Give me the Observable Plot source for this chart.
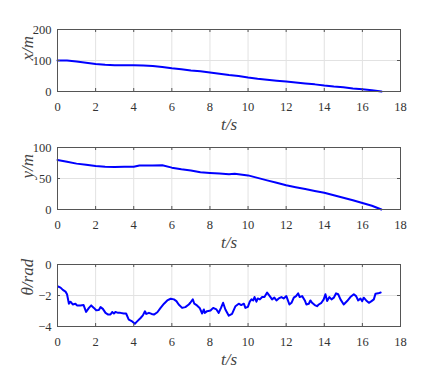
<!DOCTYPE html>
<html><head><meta charset="utf-8">
<script src="https://cdn.jsdelivr.net/npm/d3@7"></script>
<script src="https://cdn.jsdelivr.net/npm/@observablehq/plot@0.6"></script>
<style>
body{margin:0;background:#fff;}
#chart svg{display:block;}
</style></head><body><div id="chart"></div>
<script>
// ---- data ----
const timeTicks = [0, 2, 4, 6, 8, 10, 12, 14, 16, 18];

const xTime = [0,0.5,1,1.5,2,2.5,3,3.5,4,4.5,5,5.5,6,6.5,7,7.5,8,8.5,9,9.5,10,10.5,11,11.5,12,12.5,13,13.5,14,14.5,15,15.5,16,16.5,17];
const xPos  = [100,100,97,93,89,86,85,85,85,84,82,79,75,72,68,65,61,57,53,50,45,41,38,35,32,29,26,23,19,16,14,10,7,4,0];
const xTicks = [0, 100, 200];

const yTime = [0,0.5,1,1.5,2,2.5,3,3.5,4,4.3,5,5.5,6,6.5,7,7.5,8,8.5,9,9.3,10,10.5,11,11.5,12,12.5,13,13.5,14,14.5,15,15.5,16,16.5,17];
const yPos  = [80,77,74,72,70,69,68.5,69,69,71,71,71.5,67.5,65,63,60,59,58,57,57.5,55,51,47,43,39,36,33,30,27,23,19,15,10.5,6,0];
const yTicks = [0, 50, 100];

const thTime = [0.03,0.16,0.28,0.42,0.5,0.6,0.68,0.8,0.94,1.02,1.2,1.37,1.5,1.65,1.77,1.91,2.03,2.17,2.26,2.38,2.52,2.66,2.78,2.87,2.96,3.04,3.18,3.3,3.48,3.6,3.74,3.92,4.06,4.18,4.36,4.48,4.59,4.66,4.8,4.94,5.06,5.24,5.41,5.59,5.76,5.94,6.11,6.24,6.36,6.54,6.71,6.89,6.97,7.1,7.18,7.32,7.46,7.59,7.68,7.73,7.85,8.03,8.17,8.34,8.46,8.58,8.69,8.81,8.99,9.16,9.34,9.51,9.64,9.78,9.86,9.99,10.09,10.18,10.27,10.34,10.44,10.51,10.62,10.74,10.86,11.0,11.14,11.26,11.38,11.49,11.61,11.75,11.87,12.01,12.17,12.28,12.4,12.52,12.63,12.71,12.84,12.98,13.06,13.19,13.27,13.36,13.5,13.62,13.71,13.85,13.97,14.06,14.15,14.27,14.38,14.5,14.62,14.73,14.85,15.02,15.2,15.37,15.55,15.67,15.78,15.9,15.99,16.07,16.2,16.34,16.48,16.6,16.69,16.83,16.96];
const thVal  = [-1.42,-1.49,-1.64,-1.75,-1.92,-2.53,-2.4,-2.58,-2.53,-2.64,-2.64,-2.62,-3.06,-2.8,-2.64,-2.8,-2.95,-2.93,-2.75,-2.86,-3.12,-3.23,-3.23,-3.06,-3.16,-3.06,-3.12,-3.12,-3.16,-3.16,-3.56,-3.67,-3.82,-3.67,-3.45,-3.28,-3.02,-3.19,-3.12,-3.19,-3.23,-3.08,-2.8,-2.53,-2.32,-2.21,-2.25,-2.36,-2.58,-2.8,-2.75,-2.58,-2.47,-2.25,-2.53,-2.64,-2.8,-3.16,-2.9,-3.12,-3.01,-2.97,-2.8,-2.9,-3.12,-2.8,-2.47,-2.9,-3.3,-3.19,-2.69,-2.53,-2.62,-2.53,-2.8,-2.73,-2.4,-2.25,-2.32,-2.1,-2.4,-2.19,-2.25,-2.1,-2.1,-1.81,-2.04,-2.25,-2.14,-2.32,-2.19,-2.1,-2.19,-2.04,-2.58,-2.47,-2.14,-2.04,-1.86,-2.1,-2.04,-2.32,-2.58,-2.53,-2.32,-2.47,-2.62,-2.69,-2.58,-2.47,-2.25,-1.92,-2.36,-2.1,-2.25,-2.14,-1.86,-1.92,-2.25,-2.58,-2.36,-2.1,-1.92,-2.04,-2.32,-2.19,-2.36,-2.14,-2.32,-2.47,-2.36,-2.25,-1.88,-1.86,-1.81];
const thTicks = [-4, -2, 0];

const xLabel = "t/s";

// ---- drawing ----
const FONT = "Liberation Serif";
function panel({t, v, yDomain, yTicks, yLabel, height, marginTop}) {
  const W = 441, ML = 57, MR = 41, MB = 46;
  const plotH = height - marginTop - MB;
  const plotW = W - ML - MR;
  const data = t.map((d, i) => ({t: d, v: v[i]}));
  const tickColor = "#555";
  return Plot.plot({
    width: W, height, marginTop, marginBottom: MB, marginLeft: ML, marginRight: MR,
    style: "font-family: 'Liberation Serif', 'Times New Roman', serif; font-size: 12.5px; color: #262626; background: transparent; overflow: visible;",
    x: {domain: [0, 18]},
    y: {domain: yDomain},
    marks: [
      Plot.gridX(timeTicks, {stroke: "#e2e2e2", strokeOpacity: 1}),
      Plot.gridY(yTicks, {stroke: "#e2e2e2", strokeOpacity: 1}),
      Plot.line(data, {x: "t", y: "v", stroke: "#0000ff", strokeWidth: 2}),
      Plot.tickX(timeTicks, {x: d => d, insetTop: plotH - 3, stroke: tickColor}),
      Plot.tickX(timeTicks, {x: d => d, insetBottom: plotH - 3, stroke: tickColor}),
      Plot.tickY(yTicks, {y: d => d, insetRight: plotW - 3, stroke: tickColor}),
      Plot.tickY(yTicks, {y: d => d, insetLeft: plotW - 3, stroke: tickColor}),
      Plot.frame({stroke: tickColor}),
      Plot.axisX(timeTicks, {tickSize: 0, tickPadding: 11, label: null, fill: "#333"}),
      Plot.axisY(yTicks, {tickSize: 0, tickPadding: 6, label: null, fill: "#333"}),
      Plot.text([xLabel], {frameAnchor: "bottom", dy: 33, lineAnchor: "middle", fontSize: 17, fontStyle: "italic", fontFamily: FONT, fill: "#444", text: d => d}),
      Plot.text([yLabel], {frameAnchor: "left", dx: -30, rotate: -90, lineAnchor: "middle", fontSize: 17, fontStyle: "italic", fontFamily: FONT, fill: "#444", text: d => d})
    ]
  });
}

const chart = document.getElementById("chart");
chart.append(panel({t: xTime, v: xPos, yDomain: [0, 200], yTicks: xTicks, yLabel: "x/m", height: 137, marginTop: 29}));
chart.append(panel({t: yTime, v: yPos, yDomain: [0, 100], yTicks: yTicks, yLabel: "y/m", height: 118, marginTop: 10}));
chart.append(panel({t: thTime, v: thVal, yDomain: [-4, 0], yTicks: thTicks, yLabel: "θ/rad", height: 117, marginTop: 9}));
</script></body></html>
